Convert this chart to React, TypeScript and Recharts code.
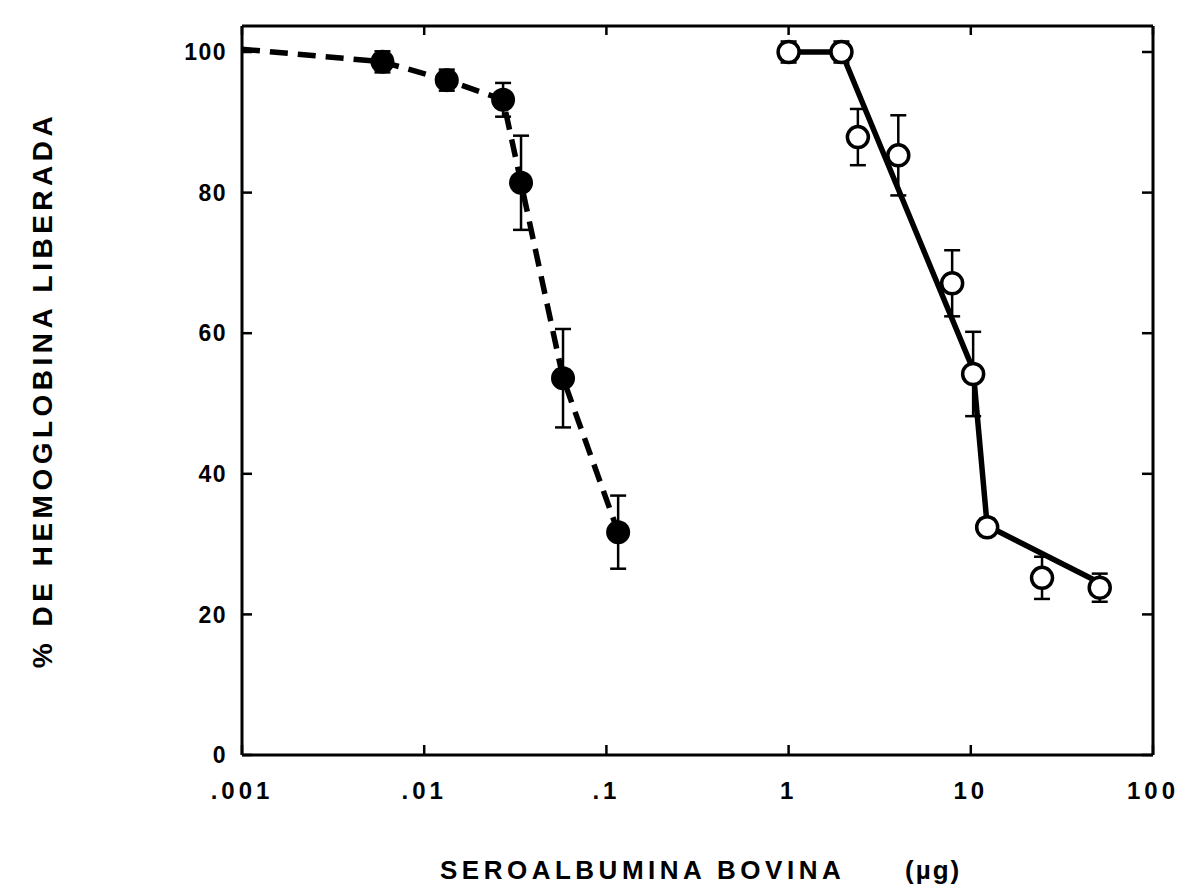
import { ComposedChart, ErrorBar, Line, Scatter, XAxis, YAxis } from 'recharts';

// x axis: log decades
const xTicks = [0.001, 0.01, 0.1, 1, 10, 100];
const xTickLabels = ['.001', '.01', '.1', '1', '10', '100'];
const yTicks = [0, 20, 40, 60, 80, 100];

// filled circles (dashed curve)
const filledX = [0.0059, 0.0133, 0.0271, 0.034, 0.0578, 0.116];
const filledY = [98.6, 96.0, 93.2, 81.4, 53.6, 31.7];
const filledErr = [1.5, 1.5, 2.4, 6.7, 7.0, 5.2];

const dashedLineX = [0.001, 0.0059, 0.0133, 0.0271, 0.034, 0.0578, 0.116];
const dashedLineY = [100.4, 98.6, 96.0, 93.2, 81.4, 53.6, 31.7];

// open circles (solid curve)
const openX = [1.0, 1.95, 2.4, 4.0, 7.9, 10.3, 12.3, 24.6, 51];
const openY = [100, 100, 87.9, 85.3, 67.1, 54.2, 32.4, 25.2, 23.8];
const openErr = [1.5, 1.5, 4, 5.7, 4.7, 6, 1.2, 3, 2];

const solidLineX = [1.0, 1.95, 10.3, 12.3, 51];
const solidLineY = [100, 100, 54.8, 32.6, 24.5];

const filledPoints = filledX.map((x, i) => ({ x, y: filledY[i], err: filledErr[i] }));
const openPoints = openX.map((x, i) => ({ x, y: openY[i], err: openErr[i] }));
const dashedLine = dashedLineX.map((x, i) => ({ x, y: dashedLineY[i] }));
const solidLine = solidLineX.map((x, i) => ({ x, y: solidLineY[i] }));

const INK = '#000';
const FONT = "'Liberation Sans', Arial, sans-serif";

function xLabel(v: number) {
  const i = xTicks.findIndex((t) => Math.abs(Math.log10(t) - Math.log10(v)) < 1e-6);
  return i >= 0 ? xTickLabels[i] : '';
}

function FilledDot(props: any) {
  const { cx, cy } = props;
  if (cx == null || cy == null) return null;
  return <circle cx={cx} cy={cy} r={12} fill={INK} />;
}

function OpenDot(props: any) {
  const { cx, cy } = props;
  if (cx == null || cy == null) return null;
  return <circle cx={cx} cy={cy} r={10.5} fill="#fff" stroke={INK} strokeWidth={3.5} />;
}

function XTitle() {
  return (
    <g fontFamily={FONT} fontWeight={700} fill={INK} fontSize={26}>
      <text x={432} y={871} textAnchor="start" letterSpacing={4.5}>
        SEROALBUMINA BOVINA
      </text>
      <text x={897} y={871} textAnchor="start" letterSpacing={2}>
        (µg)
      </text>
    </g>
  );
}

function YTitle() {
  return (
    <text
      x={0}
      y={0}
      transform="translate(44 382) rotate(-90)"
      textAnchor="middle"
      fontFamily={FONT}
      fontWeight={700}
      fontSize={28}
      letterSpacing={4.5}
      fill={INK}
    >
      % DE HEMOGLOBINA LIBERADA
    </text>
  );
}

const tickStyle = { fill: INK, fontSize: 22, fontWeight: 700, fontFamily: FONT };
const axisLine = { stroke: INK, strokeWidth: 3 };
const tickLine = { stroke: INK, strokeWidth: 2.5 };

export default function App() {
  return (
    <div>
      <ComposedChart
        width={1177}
        height={880}
        margin={{ top: 8, right: 22, bottom: 13, left: 154 }}
      >
        <XAxis
          dataKey="x"
          type="number"
          scale="log"
          domain={[0.001, 100]}
          allowDataOverflow
          ticks={xTicks}
          interval={0}
          tickFormatter={xLabel}
          axisLine={axisLine}
          tickLine={tickLine}
          tickSize={-10}
          tickMargin={37}
          height={120}
          tick={{ ...tickStyle, fontSize: 24, letterSpacing: 4 }}
          label={XTitle}
        />
        <XAxis
          xAxisId="top"
          dataKey="x"
          type="number"
          orientation="top"
          scale="log"
          domain={[0.001, 100]}
          allowDataOverflow
          ticks={xTicks}
          interval={0}
          tickFormatter={() => ''}
          axisLine={axisLine}
          tickLine={tickLine}
          tickSize={-9}
          height={10}
        />
        <YAxis
          dataKey="y"
          type="number"
          domain={[0, 103.7]}
          allowDataOverflow
          ticks={yTicks}
          interval={0}
          axisLine={axisLine}
          tickLine={tickLine}
          tickSize={-10}
          tickMargin={25}
          width={80}
          tick={{ ...tickStyle, fontSize: 23, letterSpacing: 1.5 }}
          label={YTitle}
        />
        <YAxis
          yAxisId="right"
          type="number"
          orientation="right"
          domain={[0, 103.7]}
          allowDataOverflow
          ticks={yTicks}
          interval={0}
          tickFormatter={() => ''}
          axisLine={axisLine}
          tickLine={tickLine}
          tickSize={-11}
          width={10}
        />
        <Line
          data={dashedLine}
          dataKey="y"
          type="linear"
          stroke={INK}
          strokeWidth={5.5}
          strokeDasharray="18 10"
          dot={false}
          activeDot={false}
          isAnimationActive={false}
        />
        <Line
          data={solidLine}
          dataKey="y"
          type="linear"
          stroke={INK}
          strokeWidth={5.5}
          dot={false}
          activeDot={false}
          isAnimationActive={false}
        />
        <Scatter data={filledPoints} shape={FilledDot} isAnimationActive={false}>
          <ErrorBar dataKey="err" direction="y" width={8} stroke={INK} strokeWidth={2.5} />
        </Scatter>
        <Scatter data={openPoints} shape={OpenDot} isAnimationActive={false}>
          <ErrorBar dataKey="err" direction="y" width={8} stroke={INK} strokeWidth={2.5} />
        </Scatter>
      </ComposedChart>
    </div>
  );
}
